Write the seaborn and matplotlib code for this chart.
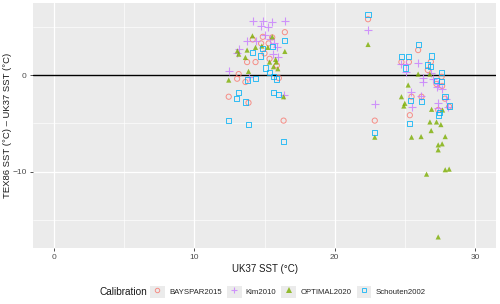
import pandas as pd
import numpy as np
import matplotlib
matplotlib.use('Agg')
import matplotlib.pyplot as plt
from matplotlib.lines import Line2D
from matplotlib.patches import Rectangle
from matplotlib.legend_handler import HandlerTuple
from matplotlib.ticker import MultipleLocator
import seaborn as sns

# UK37 SST (x) and TEX86 - UK37 offset (y) per calibration
bayspar_x = [16.45, 14.16, 14.88, 15.55, 14.76, 15.29, 15.0, 15.36, 13.76, 14.36, 13.16, 13.05,
             13.64, 16.02, 15.88, 12.45, 13.86, 16.36,
             22.38, 22.86, 24.76, 25.29, 25.95, 26.86, 27.62, 27.66, 27.86, 28.16, 25.48, 26.19,
             27.38, 25.36, 26.64, 27.26]
bayspar_y = [4.43, 3.68, 3.95, 3.89, 3.27, 3.27, 2.24, 1.68, 1.34, 1.34, 0.10, -0.38,
             -0.72, -0.31, 1.0, -2.24, -2.86, -4.71,
             5.77, -4.71, 1.34, 1.34, 2.58, 1.37, -0.18, -1.13, -2.44, -3.27, -2.24, -2.24,
             -3.61, -4.15, 0.52, -0.93]

kim_x = [14.16, 14.86, 15.55, 16.45, 14.74, 15.24, 13.76, 14.41, 15.07, 15.41, 15.71, 15.88,
         13.16, 13.02, 15.64, 15.98, 12.45, 13.86, 16.36,
         22.38, 22.86, 24.76, 25.07, 25.95, 25.07, 26.84, 26.98, 26.31, 26.31, 27.31, 27.62,
         25.43, 26.19, 25.48, 27.34, 27.34, 28.09, 27.38, 27.93]
kim_y = [5.54, 5.54, 5.43, 5.54, 5.05, 4.98, 3.54, 3.54, 4.15, 3.68, 3.27, 2.92,
         2.65, 2.30, 2.16, 1.82, 0.44, -0.18, -2.03,
         4.64, -3.02, 1.13, 1.13, 1.27, 0.34, 0.18, -0.44, -0.34, -0.69, -1.27, -1.47,
         -1.72, -2.16, -3.27, -2.86, -3.43, -3.27, -0.93, -2.51]

optimal_x = [14.14, 15.55, 14.81, 14.36, 13.76, 13.07, 13.16, 16.45, 13.64, 15.36, 15.84, 15.64,
             15.95, 13.86, 12.45, 16.36, 15.24, 15.79,
             22.38, 22.86, 25.95, 26.79, 25.24, 24.76, 25.0, 24.93, 26.91, 27.69, 26.79, 27.26,
             27.57, 26.88, 25.48, 26.16, 27.88, 27.38, 27.66, 27.38, 27.88, 28.16, 26.55, 27.38]
optimal_y = [4.05, 3.95, 3.00, 2.86, 2.58, 2.50, 2.16, 2.44, 1.82, 1.34, 1.34, 0.86,
             0.65, 0.38, -0.52, -2.24, 2.86, 1.62,
             3.16, -6.42, 0.10, 0.10, -1.03, -2.24, -2.92, -3.20, -3.54, -3.61, -4.85, -4.85,
             -5.12, -5.74, -6.42, -6.36, -6.36, -7.22, -7.11, -7.73, -9.79, -9.72, -10.24, -16.73]

schouten_x = [16.45, 14.16, 14.88, 15.55, 14.74, 15.07, 15.36, 15.64, 15.88, 13.76, 14.36, 13.16,
              13.02, 13.64, 15.64, 16.02, 12.45, 13.86, 16.36,
              22.38, 22.86, 24.76, 25.24, 25.95, 26.88, 26.59, 26.84, 27.62, 27.26, 27.62, 25.43,
              26.19, 27.45, 28.16, 27.86, 25.36, 27.38, 25.07]
schouten_y = [3.61, 2.33, 2.71, 2.92, 1.96, 0.72, 0.24, -0.18, -0.41, -0.52, -0.34, -1.82,
              -2.40, -2.78, -1.82, -2.03, -4.71, -5.08, -6.88,
              6.29, -5.95, 1.89, 1.89, 3.16, 1.96, 1.03, 0.86, 0.24, -0.59, -0.69, -2.65,
              -2.76, -3.89, -3.20, -2.24, -4.99, -4.12, 0.72]

calibrations = ['BAYSPAR2015', 'Kim2010', 'OPTIMAL2020', 'Schouten2002']
colors = ['#F8766D', '#C77CFF', '#7CAE00', '#00B0F6']
markers = ['o', '+', '^', 's']

df = pd.concat([
    pd.DataFrame({'uk37': bayspar_x, 'diff': bayspar_y, 'Calibration': 'BAYSPAR2015'}),
    pd.DataFrame({'uk37': kim_x, 'diff': kim_y, 'Calibration': 'Kim2010'}),
    pd.DataFrame({'uk37': optimal_x, 'diff': optimal_y, 'Calibration': 'OPTIMAL2020'}),
    pd.DataFrame({'uk37': schouten_x, 'diff': schouten_y, 'Calibration': 'Schouten2002'}),
])

sns.set_theme(style='darkgrid', rc={
    'axes.facecolor': '#EBEBEB',
    'grid.color': 'white',
    'axes.edgecolor': '#EBEBEB',
})
plt.rcParams['font.family'] = ['Liberation Sans', 'DejaVu Sans']

fig = plt.figure(figsize=(5, 3.04), dpi=100)
ax = fig.add_axes([0.066, 0.184, 0.926, 0.806])

ax.axhline(0, color='black', lw=1.0, zorder=1)

alpha = 0.8
handles = []
for cal, c, m in zip(calibrations, colors, markers):
    sub = df[df['Calibration'] == cal]
    if m in ('o', 's'):
        kw = dict(facecolor='none', edgecolor=c, linewidth=0.7, s=14)
        hl = Line2D([], [], marker=m, ls='', markerfacecolor='none', markeredgecolor=c,
                    markeredgewidth=0.7, markersize=3.2, alpha=alpha)
    elif m == '+':
        kw = dict(color=c, linewidth=0.8, s=30)
        hl = Line2D([], [], marker=m, ls='', color=c, markeredgewidth=0.8, markersize=5,
                    alpha=alpha)
    else:
        kw = dict(color=c, edgecolor='none', s=14)
        hl = Line2D([], [], marker=m, ls='', color=c, markeredgewidth=0, markersize=3.8,
                    alpha=alpha)
    sns.scatterplot(x=sub['uk37'], y=sub['diff'], marker=m, ax=ax, legend=False, zorder=3,
                    alpha=alpha, **kw)
    bg = Rectangle((0, 0), 1, 1, facecolor='#EBEBEB', edgecolor='none')
    handles.append((bg, hl))

ax.set_xlim(-1.5, 31.5)
ymin, ymax = df['diff'].min(), df['diff'].max()
pad = 0.05 * (ymax - ymin)
ax.set_ylim(ymin - pad, ymax + pad)

ax.xaxis.set_major_locator(MultipleLocator(10))
ax.xaxis.set_minor_locator(MultipleLocator(5))
ax.yaxis.set_major_locator(MultipleLocator(10))
ax.yaxis.set_minor_locator(MultipleLocator(5))
ax.grid(which='major', color='white', lw=0.9)
ax.grid(which='minor', color='white', lw=0.45)
for s in ax.spines.values():
    s.set_visible(False)
ax.tick_params(which='major', length=2.5, width=0.6, color='#333333',
               labelsize=6, labelcolor='#4D4D4D', pad=2, bottom=True, left=True)
ax.tick_params(which='minor', length=0)

ax.set_xlabel('UK37 SST (°C)', fontsize=7.0, color='#1A1A1A', labelpad=2)
ax.set_ylabel('TEX86 SST (°C) – UK37 SST (°C)', fontsize=6.8, color='#1A1A1A')
ax.yaxis.set_label_coords(-0.046, 0.5)

fig.text(0.2, 0.04, 'Calibration', fontsize=7.2, color='#1A1A1A', va='center', ha='left')
fig.legend(handles, calibrations, handler_map={tuple: HandlerTuple(ndivide=1)},
           loc='center left', bbox_to_anchor=(0.3, 0.04), ncol=4, frameon=False,
           fontsize=5.6, handlelength=1.9, handleheight=1.9, handletextpad=0.55,
           columnspacing=0.65, borderpad=0, borderaxespad=0)

plt.savefig('out.png', dpi=100)
plt.close()
